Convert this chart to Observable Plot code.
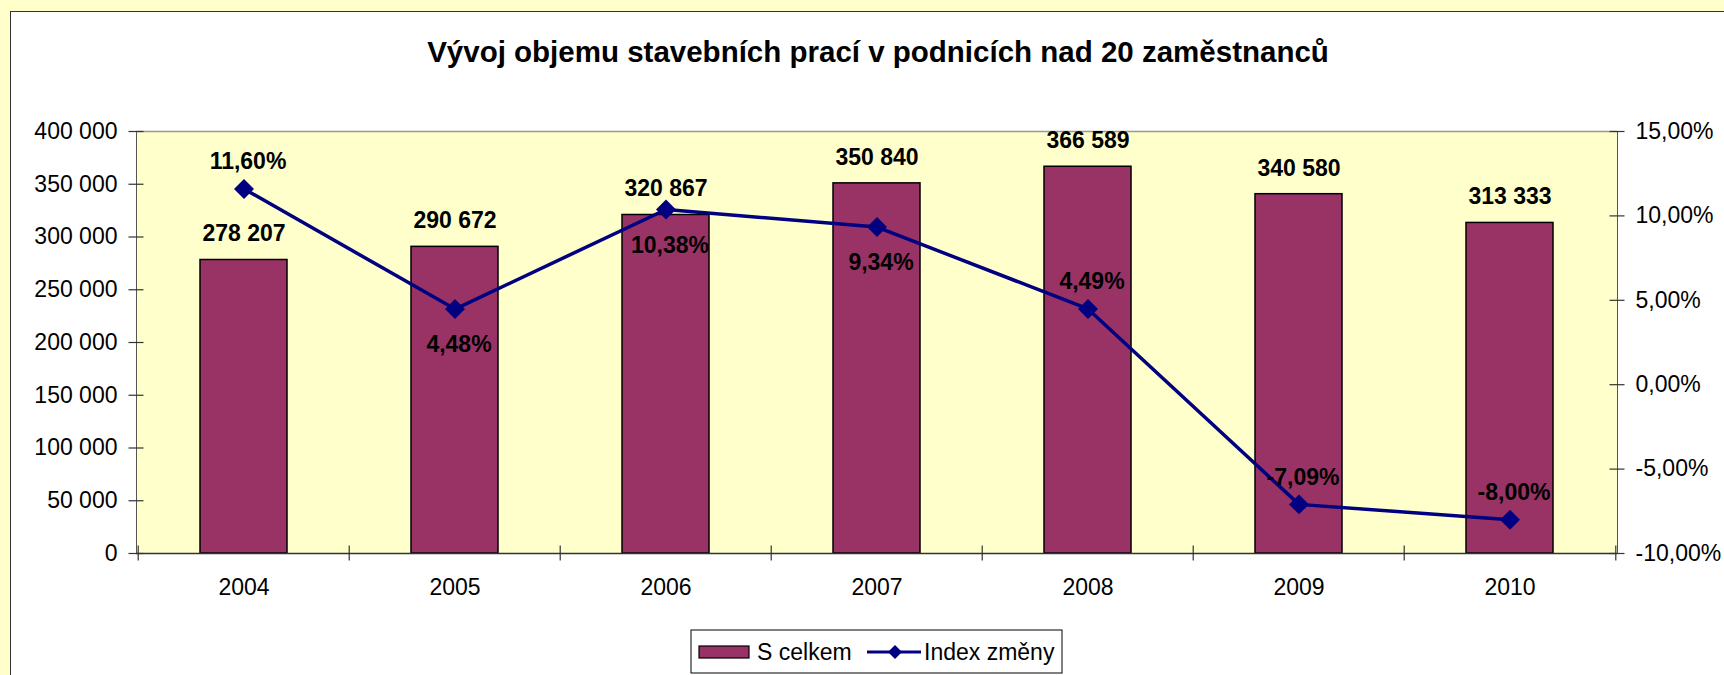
<!DOCTYPE html>
<html>
<head>
<meta charset="utf-8">
<script src="https://cdn.jsdelivr.net/npm/d3@7"></script>
<script src="https://cdn.jsdelivr.net/npm/@observablehq/plot@0.6"></script>
<style>
  html, body { margin: 0; padding: 0; }
  body { width: 1724px; height: 675px; background: #FFFFCC; position: relative; overflow: hidden;
         font-family: "Liberation Sans", Arial, sans-serif; }
  #card { position: absolute; left: 10px; top: 11px; width: 1714px; height: 664px; background: #fff;
          border-left: 1px solid #333; border-top: 1px solid #333; box-sizing: border-box; }
  #title { position: absolute; left: 0; width: 1756px; top: 34px; text-align: center;
           font-weight: bold; font-size: 29.5px; line-height: 36px; color: #000; white-space: nowrap; }
  #chart { position: absolute; left: 0; top: 100px; }
  #legend { position: absolute; left: 0; top: 0; }
</style>
</head>
<body>
<div id="card"></div>
<div id="title">Vývoj objemu stavebních prací v podnicích nad 20 zaměstnanců</div>
<div id="chart"></div>
<svg id="legend" width="1724" height="675"></svg>
<script>
// ---- data ----
const years = ["2004", "2005", "2006", "2007", "2008", "2009", "2010"];
const totals = [278207, 290672, 320867, 350840, 366589, 340580, 313333];
const indexChange = [11.60, 4.48, 10.38, 9.34, 4.49, -7.09, -8.00];
const leftTicks = [0, 50000, 100000, 150000, 200000, 250000, 300000, 350000, 400000];
const rightTicks = [-10, -5, 0, 5, 10, 15];
const indexLabelSide = ["above", "below", "below", "below", "above", "above", "above"];
const seriesNames = ["S celkem", "Index změny"];

// ---- layout / style ----
const W = 1724, H = 520;
const mL = 136, mR = 107, mT = 31, mB = 67;
const barColor = "#993366", lineColor = "#000080", plotBg = "#FFFFCC";
const leftDomain = [0, 400000], rightDomain = [-10, 15];
const toLeft = v => (v - rightDomain[0]) / (rightDomain[1] - rightDomain[0]) * (leftDomain[1] - leftDomain[0]) + leftDomain[0];
const fromLeft = d => rightDomain[0] + (d - leftDomain[0]) / (leftDomain[1] - leftDomain[0]) * (rightDomain[1] - rightDomain[0]);
const fmtNum = d => d3.format(",")(d).replace(/,/g, " ");
const fmtPct = v => v.toFixed(2).replace(".", ",") + "%";
const step = (W - mL - mR) / years.length;

const rows = years.map((y, i) => ({year: y, total: totals[i], idx: indexChange[i], idxY: toLeft(indexChange[i]), side: indexLabelSide[i]}));

const hTick = {draw(ctx) { ctx.moveTo(-8, 0); ctx.lineTo(7, 0); }};
const vTick = {draw(ctx) { ctx.moveTo(0, -8); ctx.lineTo(0, 7); }};

const chart = Plot.plot({
  width: W, height: H,
  marginLeft: mL, marginRight: mR, marginTop: mT, marginBottom: mB,
  style: {fontSize: "23px", fontFamily: "'Liberation Sans', Arial, sans-serif", color: "#000", background: "transparent", overflow: "visible"},
  x: {type: "band", domain: years, paddingInner: 0.59, paddingOuter: 0.295, label: null},
  y: {domain: leftDomain, label: null},
  marks: [
    Plot.frame({fill: plotBg, stroke: "#555"}),
    Plot.ruleY([leftDomain[1]], {stroke: "#999", strokeWidth: 1.5}),
    Plot.barY(rows, {x: "year", y: "total", fill: barColor, stroke: "#000", strokeWidth: 1.5}),
    Plot.ruleY([0], {stroke: "#333", strokeWidth: 1.5}),
    Plot.line(rows, {x: "year", y: "idxY", stroke: lineColor, strokeWidth: 3.5}),
    Plot.dot(rows, {x: "year", y: "idxY", symbol: "diamond2", r: 9, fill: lineColor, stroke: "none"}),
    Plot.text(rows, {x: "year", y: "total", text: d => fmtNum(d.total), dy: -26, fontWeight: "bold", fill: "#000"}),
    Plot.text(rows.filter(d => d.side === "above"), {x: "year", y: "idxY", text: d => fmtPct(d.idx), dx: 4, dy: -27, fontWeight: "bold", fill: "#000"}),
    Plot.text(rows.filter(d => d.side === "below"), {x: "year", y: "idxY", text: d => fmtPct(d.idx), dx: 4, dy: 36, fontWeight: "bold", fill: "#000"}),
    // axes
    Plot.axisY(leftTicks, {anchor: "left", tickSize: 0, tickPadding: 19, tickFormat: fmtNum, label: null}),
    Plot.axisY(rightTicks.map(toLeft), {anchor: "right", tickSize: 0, tickPadding: 18, tickFormat: d => fmtPct(fromLeft(d)), label: null}),
    Plot.axisX({tickSize: 0, tickPadding: 25, label: null}),
    // crossing tick marks
    Plot.dot(leftTicks, {y: d => d, frameAnchor: "left", symbol: hTick, stroke: "#333", strokeWidth: 1.2}),
    Plot.dot(rightTicks.map(toLeft), {y: d => d, frameAnchor: "right", symbol: hTick, stroke: "#333", strokeWidth: 1.2}),
    Plot.dot(years, {x: d => d, frameAnchor: "bottom", dx: -step / 2, symbol: vTick, stroke: "#333", strokeWidth: 1.2}),
    Plot.dot(years.slice(-1), {x: d => d, frameAnchor: "bottom", dx: step / 2, symbol: vTick, stroke: "#333", strokeWidth: 1.2})
  ]
});
document.getElementById("chart").appendChild(chart);

// ---- legend ----
const lg = d3.select("#legend");
const g = lg.append("g").attr("font-family", "'Liberation Sans', Arial, sans-serif").attr("font-size", 23);
g.append("rect").attr("x", 691).attr("y", 630).attr("width", 371).attr("height", 43).attr("fill", "#fff").attr("stroke", "#000").attr("stroke-width", 1);
g.append("rect").attr("x", 699).attr("y", 646).attr("width", 50).attr("height", 12).attr("fill", barColor).attr("stroke", "#000").attr("stroke-width", 1.2);
g.append("text").attr("x", 757).attr("y", 652).attr("dy", "0.35em").text(seriesNames[0]);
g.append("line").attr("x1", 867).attr("x2", 921).attr("y1", 652).attr("y2", 652).attr("stroke", lineColor).attr("stroke-width", 3);
g.append("path").attr("d", "M895,645L902,652L895,659L888,652Z").attr("fill", lineColor);
g.append("text").attr("x", 924).attr("y", 652).attr("dy", "0.35em").text(seriesNames[1]);
</script>
</body>
</html>
